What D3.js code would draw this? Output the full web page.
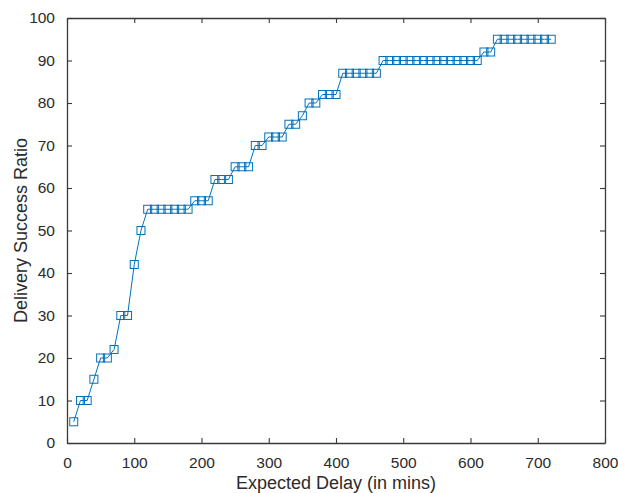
<!DOCTYPE html>
<html>
<head>
<meta charset="utf-8">
<script src="https://cdn.jsdelivr.net/npm/d3@7"></script>
<style>
  html, body { margin: 0; padding: 0; background: #fff; }
  svg { display: block; font-family: "Liberation Sans", Arial, Helvetica, sans-serif; }
</style>
</head>
<body>
<svg id="chart" width="618" height="493"></svg>
<script>
// Expected delay (minutes) at each sample
const delayMins = [
  10, 20, 30, 40, 50, 60, 70, 80, 90, 100,
  110, 120, 130, 140, 150, 160, 170, 180, 190, 200,
  210, 220, 230, 240, 250, 260, 270, 280, 290, 300,
  310, 320, 330, 340, 350, 360, 370, 380, 390, 400,
  410, 420, 430, 440, 450, 460, 470, 480, 490, 500,
  510, 520, 530, 540, 550, 560, 570, 580, 590, 600,
  610, 620, 630, 640, 650, 660, 670, 680, 690, 700,
  710, 720
];
// Delivery success ratio (%) at each delay
const successRatio = [
  5, 10, 10, 15, 20, 20, 22, 30, 30, 42,
  50, 55, 55, 55, 55, 55, 55, 55, 57, 57,
  57, 62, 62, 62, 65, 65, 65, 70, 70, 72,
  72, 72, 75, 75, 77, 80, 80, 82, 82, 82,
  87, 87, 87, 87, 87, 87, 90, 90, 90, 90,
  90, 90, 90, 90, 90, 90, 90, 90, 90, 90,
  90, 92, 92, 95, 95, 95, 95, 95, 95, 95,
  95, 95
];
const xTicks = [0, 100, 200, 300, 400, 500, 600, 700, 800];
const yTicks = [0, 10, 20, 30, 40, 50, 60, 70, 80, 90, 100];
const xLabel = "Expected Delay (in mins)";
const yLabel = "Delivery Success Ratio";

const data = delayMins.map((d, i) => ({ x: d, y: successRatio[i] }));

const svg = d3.select("#chart");
const margin = { left: 67, right: 13, top: 18, bottom: 50 };
const W = 618, H = 493;
const x = d3.scaleLinear().domain([0, 800]).range([margin.left, W - margin.right]);
const y = d3.scaleLinear().domain([0, 100]).range([H - margin.bottom, margin.top]);

const axisColor = "#3a3a3a";
const textColor = "#2b2b2b";
const lineColor = "#0072BD";
const tickLen = 5;

// Axes with inward ticks (bottom/left labelled, top/right mirrored)
const gx = svg.append("g").attr("transform", `translate(0,${y(0)})`)
  .call(d3.axisBottom(x).tickValues(xTicks).tickSizeInner(-tickLen).tickSizeOuter(0).tickPadding(14));
const gxTop = svg.append("g").attr("transform", `translate(0,${y(100)})`)
  .call(d3.axisTop(x).tickValues(xTicks).tickSizeInner(-tickLen).tickSizeOuter(0).tickFormat(""));
const gy = svg.append("g").attr("transform", `translate(${x(0)},0)`)
  .call(d3.axisLeft(y).tickValues(yTicks).tickSizeInner(-tickLen).tickSizeOuter(0).tickPadding(12));
const gyRight = svg.append("g").attr("transform", `translate(${x(800)},0)`)
  .call(d3.axisRight(y).tickValues(yTicks).tickSizeInner(-tickLen).tickSizeOuter(0).tickFormat(""));

[gx, gxTop, gy, gyRight].forEach(g => {
  g.select(".domain").attr("stroke", axisColor).attr("stroke-width", 1.3);
  g.selectAll(".tick line").attr("stroke", axisColor).attr("stroke-width", 1.1);
  g.selectAll(".tick text").attr("fill", textColor).style("font-size", "15.5px")
    .style("font-family", "\"Liberation Sans\", Arial, Helvetica, sans-serif");
});

// Series line
svg.append("path")
  .datum(data)
  .attr("fill", "none")
  .attr("stroke", lineColor)
  .attr("stroke-width", 1)
  .attr("d", d3.line().x(d => x(d.x)).y(d => y(d.y)));

// Square markers
const ms = 8;
svg.append("g").selectAll("rect")
  .data(data)
  .join("rect")
  .attr("x", d => x(d.x) - ms / 2)
  .attr("y", d => y(d.y) - ms / 2)
  .attr("width", ms)
  .attr("height", ms)
  .attr("fill", "none")
  .attr("stroke", lineColor)
  .attr("stroke-width", 1);

// Axis titles
svg.append("text")
  .attr("x", (x(0) + x(800)) / 2)
  .attr("y", 489)
  .attr("text-anchor", "middle")
  .attr("fill", textColor)
  .style("font-size", "18px")
  .text(xLabel);

svg.append("text")
  .attr("transform", `translate(27,${(y(0) + y(100)) / 2}) rotate(-90)`)
  .attr("text-anchor", "middle")
  .attr("fill", textColor)
  .style("font-size", "18px")
  .text(yLabel);
</script>
</body>
</html>
